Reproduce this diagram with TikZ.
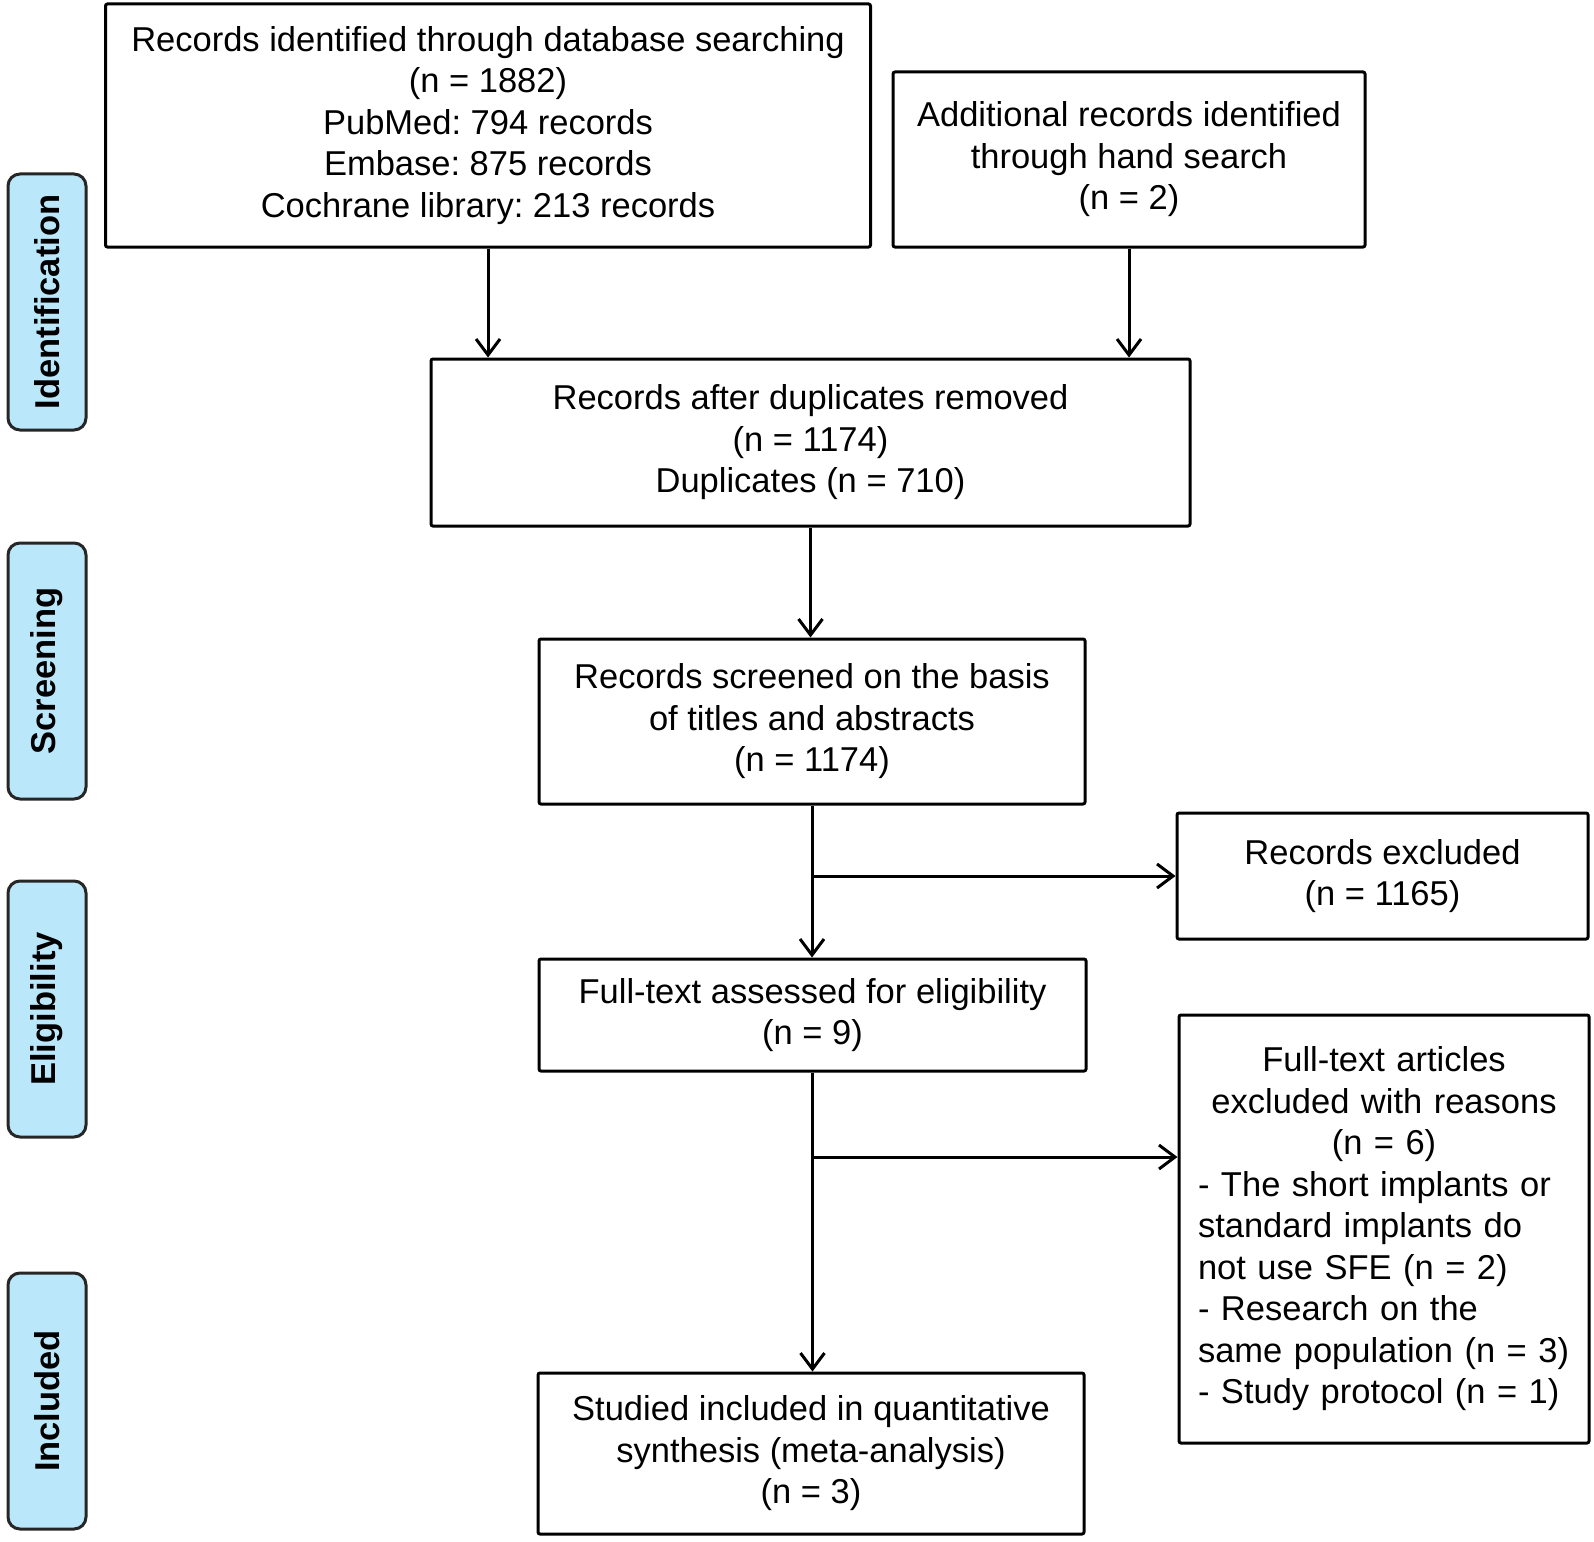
\documentclass[tikz,border=0pt]{standalone}
\usepackage{fontspec}
\setmainfont{Liberation Sans}
\frenchspacing
\usetikzlibrary{arrows.meta}
\definecolor{stagefill}{RGB}{186,231,250}
\tikzset{
  box/.style={draw=black, line width=3pt, rounded corners=2pt, align=center,
    font=\fontsize{34.5}{41.5}\selectfont, inner sep=0pt},
  stage/.style={draw=black!85, fill=stagefill, line width=3pt, rounded corners=12pt,
    rotate=90, minimum width=256pt, minimum height=78pt, inner sep=0pt,
    font=\fontsize{34.5}{41.5}\selectfont\bfseries},
  arr/.style={line width=3pt, -{Straight Barb[length=16pt,width=24pt,line width=3pt]}}
}

\begin{document}
\begin{tikzpicture}[x=1pt,y=-1pt]
        \useasboundingbox (0,0) rectangle (1594,1541);

        % stages
        \node[stage] (ident) at (47,302) {Identification};
        \node[stage] (scr) at (47,671) {Screening};
        \node[stage] (elig) at (47,1009) {Eligibility};
        \node[stage] (incd) at (47,1401) {Included};

        % boxes
        \node[box, minimum width=765pt, minimum height=243pt] (db) at (488,125.5)
          {Records identified through database searching\\(n = 1882)\\PubMed: 794 records\\Embase: 875 records\\Cochrane library: 213 records};
        \node[box, minimum width=472pt, minimum height=175pt] (hand) at (1129,159.5)
          {Additional records identified\\through hand search\\(n = 2)};
        \node[box, minimum width=759pt, minimum height=167pt] (dup) at (810.5,442.5)
          {Records after duplicates removed\\(n = 1174)\\Duplicates (n = 710)};
        \node[box, minimum width=546pt, minimum height=165pt] (screen) at (812,721.5)
          {Records screened on the basis\\of titles and abstracts\\(n = 1174)};
        \node[box, minimum width=411pt, minimum height=126pt] (excl) at (1382.5,876)
          {Records excluded\\(n = 1165)};
        \node[box, minimum width=547pt, minimum height=112pt] (full) at (812.5,1015)
          {Full-text assessed for eligibility\\(n = 9)};
        \node[box, minimum width=410pt, minimum height=428pt, inner xsep=19pt,
          text width=372pt, align=left] (reasons) at (1384,1229)
          {{\centering Full-text articles\\excluded with reasons\\(n = 6)\par}
           \raggedright - The short implants or\\standard implants do\\not use SFE (n = 2)\\- Research on the\\same population (n~=~3)\\- Study protocol (n = 1)};
        \node[box, minimum width=546pt, minimum height=161pt] (incl) at (811,1453.5)
          {Studied included in quantitative\\synthesis (meta-analysis)\\(n = 3)};

        % arrows
        \draw[arr] (db.south) -- (db.south |- dup.north);
        \draw[arr] (hand.south) -- (hand.south |- dup.north);
        \draw[arr] (dup.south) -- (dup.south |- screen.north);
        \draw[arr] (screen.south) -- (screen.south |- full.north);
        \draw[arr] (screen.south |- excl.west) -- (excl.west);
        \coordinate (br) at (812,1157);
        \draw[arr] (full.south) -- (full.south |- incl.north);
        \draw[arr] (br) -- (br -| reasons.west);

    \end{tikzpicture}
\end{document}
